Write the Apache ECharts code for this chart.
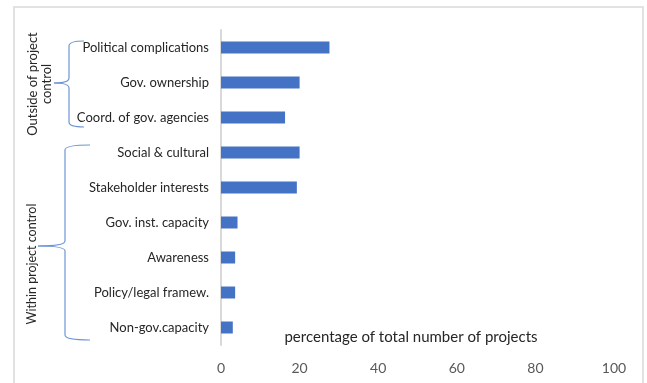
<!DOCTYPE html>
<html>
<head>
<meta charset="utf-8">
<script src="https://cdn.jsdelivr.net/npm/echarts@6/dist/echarts.min.js"></script>
<style>
  html, body { margin: 0; padding: 0; background: #fff; }
  #chart { width: 647px; height: 383px; }
</style>
</head>
<body>
<div id="chart"></div>
<script>
// Barriers, ordered top to bottom
const categories = [
  'Political complications',
  'Gov. ownership',
  'Coord. of gov. agencies',
  'Social & cultural',
  'Stakeholder interests',
  'Gov. inst. capacity',
  'Awareness',
  'Policy/legal framew.',
  'Non-gov.capacity'
];
// Percentage of total number of projects
const values = [27.6, 20, 16.3, 20, 19.3, 4.2, 3.6, 3.6, 3.0];

const axisTitle = 'percentage of total number of projects';
const groupOutside = 'Outside of project\ncontrol';
const groupWithin = 'Within project control';

const FONT = 'Lato, "Open Sans", sans-serif';
const braceColor = '#6d95d6';

// Left curly brace built from quadratic curves and straight lines
function brace(xArm, xStem, xTip, yTop, yMid, yBot) {
  const st = { stroke: braceColor, lineWidth: 1.2, fill: null };
  const r = 5;
  return {
    type: 'group',
    silent: true,
    children: [
      { type: 'bezierCurve', shape: { x1: xArm, y1: yTop, x2: xStem, y2: yTop + r, cpx1: xStem, cpy1: yTop }, style: st },
      { type: 'line', shape: { x1: xStem, y1: yTop + r, x2: xStem, y2: yMid - r }, style: st },
      { type: 'bezierCurve', shape: { x1: xStem, y1: yMid - r, x2: xTip, y2: yMid, cpx1: xStem, cpy1: yMid }, style: st },
      { type: 'bezierCurve', shape: { x1: xTip, y1: yMid, x2: xStem, y2: yMid + r, cpx1: xStem, cpy1: yMid }, style: st },
      { type: 'line', shape: { x1: xStem, y1: yMid + r, x2: xStem, y2: yBot - r }, style: st },
      { type: 'bezierCurve', shape: { x1: xStem, y1: yBot - r, x2: xArm, y2: yBot, cpx1: xStem, cpy1: yBot }, style: st }
    ]
  };
}

const chart = echarts.init(document.getElementById('chart'), null, { renderer: 'canvas' });

chart.setOption({
  animation: false,
  grid: { left: 221, right: 33, top: 30, bottom: 38, containLabel: false },
  xAxis: {
    type: 'value',
    min: 0,
    max: 100,
    interval: 20,
    axisLine: { show: false },
    axisTick: { show: false },
    splitLine: { show: false },
    axisLabel: { color: '#595959', fontSize: 14, fontFamily: FONT, margin: 16 }
  },
  yAxis: {
    type: 'category',
    data: categories,
    inverse: true,
    axisLine: { show: true, lineStyle: { color: '#d9d9d9', width: 2 } },
    axisTick: { show: false },
    axisLabel: { color: '#262626', fontSize: 13, fontFamily: FONT, margin: 12 }
  },
  series: [{
    type: 'bar',
    data: values,
    barWidth: 12,
    itemStyle: { color: '#4472c4' }
  }],
  graphic: [
    // outer chart frame
    {
      type: 'rect',
      shape: { x: 14, y: 7, width: 629, height: 390 },
      style: { fill: null, stroke: '#d9d9d9', lineWidth: 1.5 },
      silent: true
    },
    // axis title inside the plot
    {
      type: 'text',
      x: 411, y: 337,
      style: {
        text: axisTitle,
        fill: '#262626',
        font: '15px ' + FONT,
        align: 'center',
        verticalAlign: 'middle'
      }
    },
    brace(84, 69, 54, 41, 83, 127),
    brace(90, 65, 38, 145, 246, 340),
    // group captions, rotated
    {
      type: 'text',
      x: 40, y: 84,
      rotation: Math.PI / 2,
      style: {
        text: groupOutside,
        fill: '#262626',
        font: '13px ' + FONT,
        lineHeight: 14,
        align: 'center',
        verticalAlign: 'middle'
      }
    },
    {
      type: 'text',
      x: 32, y: 264,
      rotation: Math.PI / 2,
      style: {
        text: groupWithin,
        fill: '#262626',
        font: '12.5px ' + FONT,
        align: 'center',
        verticalAlign: 'middle'
      }
    }
  ]
});
</script>
</body>
</html>
